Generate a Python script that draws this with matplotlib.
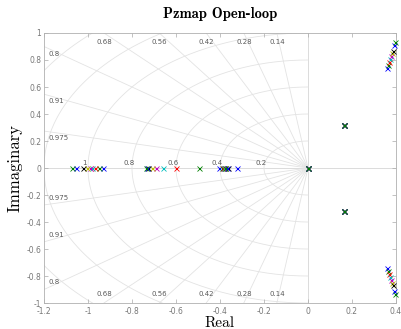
import matplotlib
matplotlib.use('Agg')
import matplotlib.pyplot as plt
import numpy as np

# one entry per system, colours cycle like MATLAB's old b g r c m y k
colors = ['b', 'g', 'r', 'c', 'm', 'y', 'k', 'b', 'g']
pole_a = [-0.932, -0.950, -0.968, -0.980, -0.991, -1.005, -1.023, -1.055, -1.073]
pole_b = [-0.323, -0.495, -0.600, -0.659, -0.691, -0.709, -0.727, -0.731, -0.736]
pole_c = [-0.405, -0.391, -0.385, -0.380, -0.378, -0.377, -0.364, -0.370, -0.375]
cpx_re = [0.359, 0.364, 0.368, 0.373, 0.378, 0.382, 0.386, 0.391, 0.395]
cpx_im = [0.741, 0.763, 0.785, 0.807, 0.830, 0.850, 0.867, 0.911, 0.933]
slow_re = 0.164
slow_im = 0.315

zetas = [0.14, 0.28, 0.42, 0.56, 0.68, 0.8, 0.91, 0.975]
wns = [0.2, 0.4, 0.6, 0.8, 1.0, 1.2, 1.4]
wn_labels = ['0.2', '0.4', '0.6', '0.8', '1']

xticks = [-1.2, -1, -0.8, -0.6, -0.4, -0.2, 0, 0.2, 0.4]
yticks = [-1, -0.8, -0.6, -0.4, -0.2, 0, 0.2, 0.4, 0.6, 0.8, 1]

xmin, xmax, ymin, ymax = -1.2, 0.4, -1, 1
gc = '#e3e3e3'
lc = '#5a5a5a'

fig = plt.figure(figsize=(4.01, 3.29), dpi=100)
ax = fig.add_axes([0.1097, 0.079, 0.8778, 0.8207])

# sgrid style grid
ax.axhline(0, color='#d6d6d6', lw=0.6, zorder=1)
ax.axvline(0, color='#d6d6d6', lw=0.6, zorder=1)
for z in zetas:
    s = np.sqrt(1 - z**2)
    t = min(-xmin / z, ymax / s)
    ax.plot([0, -z*t], [0, s*t], color=gc, lw=0.6, zorder=1)
    ax.plot([0, -z*t], [0, -s*t], color=gc, lw=0.6, zorder=1)
    if ymax / s < -xmin / z:
        xl = -z * ymax / s
        ax.text(xl, ymax - 0.07, '%g' % z, fontsize=5, color=lc, ha='center', va='center')
        ax.text(xl, -ymax + 0.07, '%g' % z, fontsize=5, color=lc, ha='center', va='center')
    else:
        yl = s * (-xmin) / z
        ax.text(xmin + 0.02, yl - 0.03, '%g' % z, fontsize=5, color=lc, ha='left', va='top')
        ax.text(xmin + 0.02, -yl + 0.03, '%g' % z, fontsize=5, color=lc, ha='left', va='bottom')
th = np.linspace(np.pi/2, 3*np.pi/2, 200)
for w in wns:
    ax.plot(w*np.cos(th), w*np.sin(th), color=gc, lw=0.6, zorder=1)
for w, lab in zip(wns, wn_labels):
    ax.text(-w - 0.015, 0.012, lab, fontsize=5, color=lc, ha='center', va='bottom')

# poles
for i, c in enumerate(colors):
    re = [pole_a[i], pole_b[i], pole_c[i], 0, slow_re, slow_re, cpx_re[i], cpx_re[i]]
    im = [0, 0, 0, 0, slow_im, -slow_im, cpx_im[i], -cpx_im[i]]
    ax.plot(re, im, 'x', color=c, ms=3.6, mew=0.6, zorder=3, clip_on=False)

ax.set_xlim(xmin, xmax)
ax.set_ylim(ymin, ymax)
ax.set_xticks(xticks)
ax.set_xticklabels(['%g' % v for v in xticks])
ax.set_yticks(yticks)
ax.set_yticklabels(['%g' % v for v in yticks])
ax.tick_params(direction='in', length=3, width=0.5, colors='#aaaaaa', labelcolor='#777777',
               labelsize=5.5, top=True, right=True)
ax.tick_params(axis='x', pad=3)
ax.tick_params(axis='y', pad=2)
for sp in ax.spines.values():
    sp.set_color('#b0b0b0')
    sp.set_linewidth(0.6)

ax.set_title('Pzmap Open-loop', family='cmb10', fontsize=10.5, pad=11)
ax.set_xlabel('Real', family='cmr10', fontsize=11, labelpad=0)
ax.set_ylabel('Immaginary', family='cmr10', fontsize=12, labelpad=3)

fig.savefig('out.png', dpi=100)
